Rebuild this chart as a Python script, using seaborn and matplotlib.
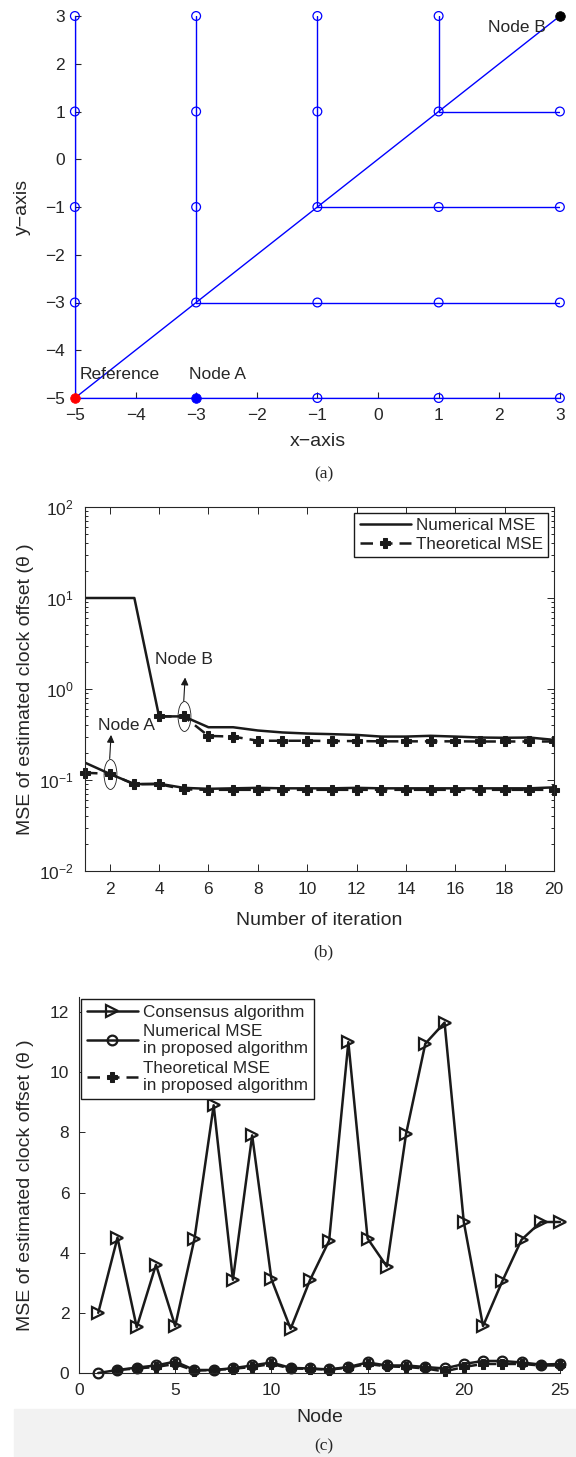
import numpy as np
import pandas as pd
import matplotlib
matplotlib.use('Agg')
import matplotlib.pyplot as plt
import seaborn as sns
from matplotlib.path import Path
from matplotlib.patches import Rectangle
from matplotlib.transforms import offset_copy

sns.set_theme(style='ticks')
plt.rcParams['font.family'] = ['Liberation Sans', 'DejaVu Sans']
plt.rcParams['mathtext.fontset'] = 'custom'
plt.rcParams['mathtext.rm'] = 'Liberation Sans'
plt.rcParams['mathtext.it'] = 'Liberation Sans:italic'

# ---- (a) network topology: branches of the spanning tree
branch_x = [[-5, -5, -5, -5, -5], [-5, -3, -1, 1, 3], [-5, -3, -1, 1, 3],
            [-3, -3, -3, -3], [-3, -1, 1, 3], [-1, -1, -1], [-1, 1, 3],
            [1, 1], [1, 3]]
branch_y = [[-5, -3, -1, 1, 3], [-5, -5, -5, -5, -5], [-5, -3, -1, 1, 3],
            [-3, -1, 1, 3], [-3, -3, -3, -3], [-1, 1, 3], [-1, -1, -1],
            [1, 3], [1, 1]]
grid_vals = [-5, -3, -1, 1, 3]
ref_node = (-5, -5)
node_a = (-3, -5)
node_b = (3, 3)

# ---- (b) MSE vs iteration
iters = np.arange(1, 21)
b_num = [10, 10, 10, 0.50, 0.50, 0.38, 0.38, 0.35, 0.333, 0.324, 0.319, 0.313,
         0.30, 0.30, 0.306, 0.30, 0.293, 0.291, 0.293, 0.276]
b_theo = [np.nan, np.nan, np.nan, 0.50, 0.50, 0.305, 0.30, 0.27, 0.27, 0.27,
          0.268, 0.268, 0.266, 0.266, 0.266, 0.266, 0.265, 0.265, 0.265, 0.265]
a_num = [0.155, 0.117, 0.090, 0.091, 0.082, 0.080, 0.081, 0.082, 0.081, 0.081,
         0.081, 0.082, 0.081, 0.081, 0.081, 0.081, 0.081, 0.081, 0.081, 0.083]
a_theo = [0.12, 0.117, 0.090, 0.090, 0.079, 0.078, 0.078, 0.078, 0.078, 0.078,
          0.078, 0.078, 0.078, 0.078, 0.078, 0.078, 0.078, 0.078, 0.078, 0.078]

# ---- (c) MSE per node
nodes = np.arange(1, 26)
consensus = [2.0, 4.5, 1.52, 3.6, 1.56, 4.46, 8.9, 3.1, 7.9, 3.12, 1.47, 3.08,
             4.4, 11.0, 4.47, 3.54, 7.95, 10.95, 11.65, 5.02, 1.56, 3.05, 4.43,
             5.02, 5.02]
prop_num = [0.0, 0.1, 0.18, 0.25, 0.38, 0.1, 0.1, 0.16, 0.25, 0.35, 0.17, 0.15,
            0.12, 0.2, 0.35, 0.25, 0.25, 0.2, 0.15, 0.3, 0.4, 0.4, 0.35, 0.28, 0.3]
prop_theo = [np.nan, 0.1, 0.15, 0.2, 0.3, 0.08, 0.1, 0.14, 0.2, 0.3, 0.15, 0.14,
             0.11, 0.18, 0.3, 0.22, 0.2, 0.15, 0.05, 0.2, 0.3, 0.3, 0.3, 0.25, 0.25]

TICK = 12.5
LAB = 14
LEG = 12.3
H = 1457.0
fig = plt.figure(figsize=(5.76, 14.57), dpi=100)

# ================= panel (a)
ax_a = fig.add_axes([0.130, 1 - 398 / H, 0.842, 382 / H])
for bx, by in zip(branch_x, branch_y):
    sns.lineplot(x=bx, y=by, estimator=None, sort=False, color='blue',
                 lw=1.0, ax=ax_a, zorder=3)

gx, gy = np.meshgrid(grid_vals, grid_vals)
gx, gy = gx.ravel(), gy.ravel()
special = [ref_node, node_a, node_b]
keep = [(x, y) not in special for x, y in zip(gx, gy)]
sns.scatterplot(x=gx[keep], y=gy[keep], marker='o', s=40, facecolor='none',
                edgecolor='blue', linewidth=0.9, ax=ax_a, zorder=4, clip_on=False)
for (px, py), col in zip(special, ['red', 'blue', 'black']):
    sns.scatterplot(x=[px], y=[py], marker='o', s=48, color=col, edgecolor=col,
                    ax=ax_a, zorder=5, clip_on=False)

ax_a.annotate('Reference', xy=ref_node, xytext=(3.5, 17), textcoords='offset points',
              ha='left', va='center', fontsize=12.5)
ax_a.annotate('Node A', xy=node_a, xytext=(-5, 17), textcoords='offset points',
              ha='left', va='center', fontsize=12.5)
ax_a.annotate('Node B', xy=node_b, xytext=(-10, -8), textcoords='offset points',
              ha='right', va='center', fontsize=12.5)

ax_a.set_xlim(-5, 3)
ax_a.set_ylim(-5, 3)
ax_a.set_xticks(range(-5, 4))
ax_a.set_yticks(range(-5, 4))
sns.despine(ax=ax_a)
for s in ['left', 'bottom']:
    ax_a.spines[s].set_color('blue')
    ax_a.spines[s].set_linewidth(0.9)
ax_a.tick_params(direction='in', length=4, width=0.8, pad=7, labelsize=TICK)
ax_a.set_xlabel('x\u2212axis', fontsize=LAB)
ax_a.set_ylabel('y\u2212axis', fontsize=LAB)
ax_a.xaxis.set_label_coords(0.5, -0.092)
ax_a.yaxis.set_label_coords(-0.091, 0.5)

# ================= panel (b)
ax_b = fig.add_axes([85 / 576, 1 - 871 / H, 469 / 576, 364 / H])
ax_b.set_yscale('log')
df_b = pd.DataFrame({'iteration': iters, 'b_num': b_num, 'b_theo': b_theo,
                     'a_num': a_num, 'a_theo': a_theo})
dash = (0, (5, 2.8))
sns.lineplot(data=df_b, x='iteration', y='b_num', color='k', lw=1.8, ax=ax_b,
             label='Numerical MSE')
sns.lineplot(data=df_b.dropna(subset=['b_theo']), x='iteration', y='b_theo',
             color='k', lw=1.8, ls=dash, marker='P', ms=7, mec='k', ax=ax_b,
             label='Theoretical MSE')
sns.lineplot(data=df_b, x='iteration', y='a_num', color='k', lw=1.8, ax=ax_b)
sns.lineplot(data=df_b, x='iteration', y='a_theo', color='k', lw=1.8, ls=dash,
             marker='P', ms=7, mec='k', ax=ax_b, clip_on=False)

circ = Path.unit_circle()
ell = Path(circ.vertices * np.array([0.43, 1.0]), circ.codes)
for i, vals, txt, tx, ty in [(1, a_num, 'Node A', 12, 35), (4, b_num, 'Node B', 0, 41)]:
    x0, y0 = iters[i], vals[i]
    ax_b.plot([x0], [y0], marker=ell, ms=21.5, mfc='none', mec='k', mew=0.6, ls='')
    ax_b.annotate('', xy=(x0, y0),
                  xycoords=offset_copy(ax_b.transData, fig=fig, x=1, y=28, units='points'),
                  xytext=(x0, y0),
                  textcoords=offset_copy(ax_b.transData, fig=fig, y=11, units='points'),
                  arrowprops=dict(arrowstyle='-|>', color='k', lw=0.8,
                                  mutation_scale=11, shrinkA=0, shrinkB=0))
    ax_b.annotate(txt, xy=(x0, y0), xytext=(tx, ty), textcoords='offset points',
                  ha='center', va='center', fontsize=12.5)

ax_b.set_xlim(1, 20)
ax_b.set_ylim(1e-2, 1e2)
ax_b.set_xticks(range(2, 21, 2))
ax_b.tick_params(which='both', direction='in', top=True, right=True,
                 labelsize=TICK, width=0.7)
ax_b.tick_params(which='major', length=5, pad=8)
ax_b.tick_params(which='minor', length=2.5)
for s in ax_b.spines.values():
    s.set_linewidth(0.8)
ax_b.set_xlabel('Number of iteration', fontsize=LAB)
ax_b.set_ylabel('MSE of estimated clock offset (\u03b8 )', fontsize=LAB)
ax_b.xaxis.set_label_coords(0.5, -0.112)
ax_b.yaxis.set_label_coords(-0.109, 0.5)
ax_b.legend(loc='upper right', frameon=True, fancybox=False, edgecolor='k',
            framealpha=1, fontsize=LEG, handlelength=3, borderaxespad=0.35,
            borderpad=0.3, labelspacing=0.2, handletextpad=0.3)

# ================= panel (c)
ax_c = fig.add_axes([79 / 576, 1 - 1373 / H, 481 / 576, 376 / H])
sns.lineplot(x=nodes, y=consensus, color='k', lw=1.8, marker='>', ms=9,
             mfc='none', mec='k', mew=1.6, ax=ax_c, label='Consensus algorithm',
             clip_on=False)
sns.lineplot(x=nodes, y=prop_num, color='k', lw=1.8, marker='o', ms=7,
             mfc='none', mec='k', mew=1.6, ax=ax_c,
             label='Numerical MSE\nin proposed algorithm', clip_on=False)
sns.lineplot(x=nodes, y=prop_theo, color='k', lw=1.8, ls=dash, marker='P', ms=6.5,
             mec='k', ax=ax_c, label='Theoretical MSE\nin proposed algorithm',
             clip_on=False)
ax_c.set_xlim(0, 25)
ax_c.set_ylim(0, 12.5)
ax_c.set_xticks(range(0, 26, 5))
ax_c.set_yticks(range(0, 13, 2))
sns.despine(ax=ax_c)
ax_c.tick_params(direction='in', length=4, width=0.7, pad=7, labelsize=TICK)
for s in ax_c.spines.values():
    s.set_linewidth(0.8)
ax_c.set_xlabel('Node', fontsize=LAB)
ax_c.set_ylabel('MSE of estimated clock offset (\u03b8 )', fontsize=LAB)
ax_c.xaxis.set_label_coords(0.5, -0.096)
ax_c.yaxis.set_label_coords(-0.094, 0.5)
ax_c.legend(loc='upper left', frameon=True, fancybox=False, edgecolor='k',
            framealpha=1, fontsize=LEG, handlelength=3, borderaxespad=0.1,
            borderpad=0.35, labelspacing=0.25, handletextpad=0.3)

# captions and the light scan band at the bottom
for lbl, ypx in [('(a)', 474), ('(b)', 952), ('(c)', 1446)]:
    fig.text(0.562, 1 - ypx / H, lbl, ha='center', va='center', fontsize=12.5,
             family='Liberation Serif')
fig.patches.append(Rectangle((0.025, 0), 0.975, 48 / H, transform=fig.transFigure,
                             color='#f2f2f2', zorder=-1))

fig.savefig('out.png', dpi=100)
